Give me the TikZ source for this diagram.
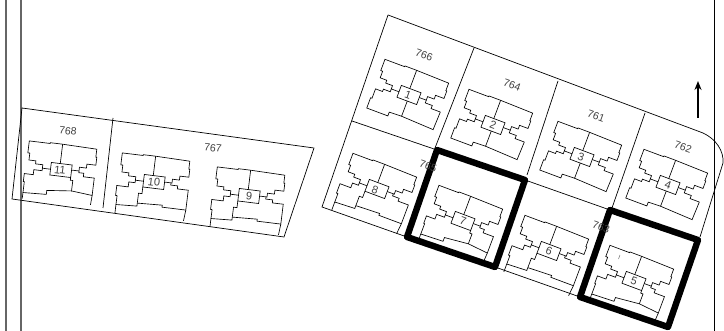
\documentclass[tikz,border=0pt]{standalone}
\usepackage{fontspec}
\usetikzlibrary{arrows.meta}
\setmainfont{Liberation Sans}
\tikzset{
    lot/.style={draw,line width=0.7pt},
    frameline/.style={draw=black!60,line width=1.4pt},
    heavy/.style={draw,line width=6.4pt,line join=round},
    plan/.style={draw,line width=0.65pt,line join=miter},
    lotnum/.style={font=\fontsize{10.5}{10.5}\selectfont,inner sep=0pt,text=black!75},
    unitnum/.style={font=\fontsize{11}{11}\selectfont,inner sep=0pt,text=black!75},
    pics/upper/.style={code={
        \draw[plan] (-10.5,6.3) rectangle (10.5,-6.3);
        \draw[plan] (-10.5,-0.5) -- (-18.7,-0.5) -- (-18.7,3) -- (-26,3) -- (-26,6) -- (-33,6) -- (-33,13) -- (-35,13) -- (-35,25) -- (-14,25) -- (-14,25.8) -- (-2,25.8) -- (33,25) -- (33,17) -- (34,17) -- (34,9) -- (25,9) -- (25,5) -- (18,5) -- (18,1.2) -- (10.5,1.2);
        \draw[plan] (-1.5,25.8) -- (-1.5,6.3);
    }},
    pics/wingsA/.style={code={
        \draw[plan] (-18.7,-0.5) -- (-18.7,-3.5) -- (-26,-3.5) -- (-26,-6) -- (-33.5,-6) -- (-33.5,-16) -- (-35,-16) -- (-35,-27) -- (-12.5,-27) -- (-12.5,-23) -- (0.5,-22.5) -- (0.5,-6.3);
        \draw[plan] (0.5,-22.5) -- (34.7,-24) -- (35.3,-5) -- (25.5,-5) -- (25.5,-1.7) -- (18,-1.7) -- (18,1.2);
    }},
    pics/wingsB/.style={code={
        \draw[plan] (-18.7,-0.5) -- (-18.7,-3) -- (-25,-3) -- (-25,-8) -- (-36.5,-8) -- (-36.5,-18) -- (-35,-18) -- (-35,-27) -- (-14,-26) -- (-14,-13) -- (-10.5,-13) -- (-10.5,-6.3);
        \draw[plan] (-14,-23) -- (11,-22) -- (11,-24) -- (35,-24) -- (35,-4) -- (24,-4) -- (24,-1) -- (17,-1) -- (17,1.2);
        \draw[plan] (-35,-27) -- (-35,-35.4);
        \draw[plan] (35,-24) -- (34,-35);
    }},
    pics/wingsC/.style={code={
        \draw[plan] (-18.7,-0.5) -- (-18.7,-3) -- (-27,-3) -- (-27,-8) -- (-36,-8) -- (-36,-16) -- (-35,-16) -- (-35,-27) -- (-11.6,-26) -- (-11.6,-22) -- (13,-19.5) -- (13,-9) -- (10.5,-9) -- (10.5,-6.3);
        \draw[plan] (13,-19.5) -- (34,-21.5) -- (34,-4) -- (23,-4) -- (23,-0.5) -- (18,-0.5) -- (18,1.2);
        \draw[plan] (-35,-27) -- (-35,-33);
        \draw[plan] (34,-21.5) -- (33.5,-31);
    }}
}
\begin{document}
\begin{tikzpicture}[x=1pt,y=1pt]
    \useasboundingbox (0,0) rectangle (724,331);
    % frame
    \coordinate (f1t) at (6,331);
    \coordinate (f1b) at (6,0);
    \coordinate (f2t) at (21,331);
    \coordinate (f2b) at (21,0);
    \coordinate (f3t) at (714.5,331);
    \coordinate (f3b) at (714.5,0);
    \path[frameline] (f1t) -- (f1b);
    \path[frameline] (f2t) -- (f2b);
    \path[draw=black,line width=0.8pt] (f3t) -- (f3b);

    % left lots
    \path[lot] (22,223) -- (314,183) -- (284,94) -- (12,132) -- cycle;
    \path[lot] (113,213) -- (103,123);

    % right lots
    \path[lot] (388,316) -- (322,124) -- (407,94);
    \path[lot] (495,64) -- (580,34);
    \path[lot] (388,316) -- (703,198) .. controls (716,192) and (724,180) .. (723,168) -- (700,94);
    \path[lot] (474,283) -- (435,183);
    \path[lot] (558,250) -- (527,156);
    \path[lot] (645,218) -- (612,123);
    \path[lot] (352,210) -- (437,181);
    \path[lot] (525,151) -- (610,121);

    % units right
    \foreach \ux/\uy in {409/236,493/206,582/174,668/146}{
        \pic[rotate=-20.5] at (\ux,\uy) {upper};
        \pic[rotate=-20.5] at (\ux,\uy) {wingsA};
    }
    \foreach \ux/\uy in {377/142,549/80}{
        \pic[rotate=-20.5] at (\ux,\uy) {upper};
        \pic[rotate=-20.5] at (\ux,\uy) {wingsB};
    }
    \foreach \ux/\uy in {463/110,634/50}{
        \pic[rotate=-20.5] at (\ux,\uy) {upper};
        \pic[rotate=-20.5] at (\ux,\uy) {wingsC};
    }

    % units left
    \pic[rotate=-7] at (61,161) {upper};
    \pic[rotate=-7] at (61,161) {wingsC};
    \pic[rotate=-7] at (154,149) {upper};
    \pic[rotate=-7] at (154,149) {wingsB};
    \pic[rotate=-7] at (249,135) {upper};
    \pic[rotate=-7] at (249,135) {wingsB};

    % marked lots
    \path[heavy] (437,181) -- (525,151) -- (495,64) -- (407,94) -- cycle;
    \path[heavy] (610,121) -- (698,91) -- (668,4) -- (580,34) -- cycle;

    % lot numbers
    \node[lotnum,rotate=-20] (lot766) at (424,276) {766};
    \node[lotnum,rotate=-20] (lot764) at (512,246) {764};
    \node[lotnum,rotate=-20] (lot761) at (596,215) {761};
    \node[lotnum,rotate=-20] (lot762) at (683,184) {762};
    \node[lotnum,rotate=-20] (lot765) at (428,165) {765};
    \node[lotnum,rotate=-20] (lot763) at (601,104) {763};
    \node[lotnum,rotate=-7] (lot768) at (68,200) {768};
    \node[lotnum,rotate=-7] (lot767) at (213,183) {767};

    % unit numbers
    \node[unitnum,rotate=-20] (u1) at (408,236) {1};
    \node[unitnum,rotate=-20] (u2) at (493,206) {2};
    \node[unitnum,rotate=-20] (u3) at (581,174) {3};
    \node[unitnum,rotate=-20] (u4) at (668,146) {4};
    \node[unitnum,rotate=-20] (u5) at (634,50) {5};
    \node[unitnum,rotate=-20] (u6) at (549,80) {6};
    \node[unitnum,rotate=-20] (u7) at (463,110) {7};
    \node[unitnum,rotate=-20] (u8) at (375,141) {8};
    \node[unitnum,rotate=-7] (u9) at (249,135) {9};
    \node[unitnum,rotate=-7] (u10) at (154,149) {10};
    \node[unitnum,rotate=-7] (u11) at (60,161) {11};

    % stray mark in unit 5
    \coordinate (mark0) at (618.5,72);
    \coordinate (mark1) at (620,76);
    \draw[draw=black!60,line width=0.5pt] (mark0) -- (mark1);

    % north arrow
    \coordinate (north0) at (698,213);
    \coordinate (north1) at (698,250);
    \draw[line width=1.6pt,-{Stealth[length=9pt,width=7pt]}] (north0) -- (north1);
\end{tikzpicture}
\end{document}
